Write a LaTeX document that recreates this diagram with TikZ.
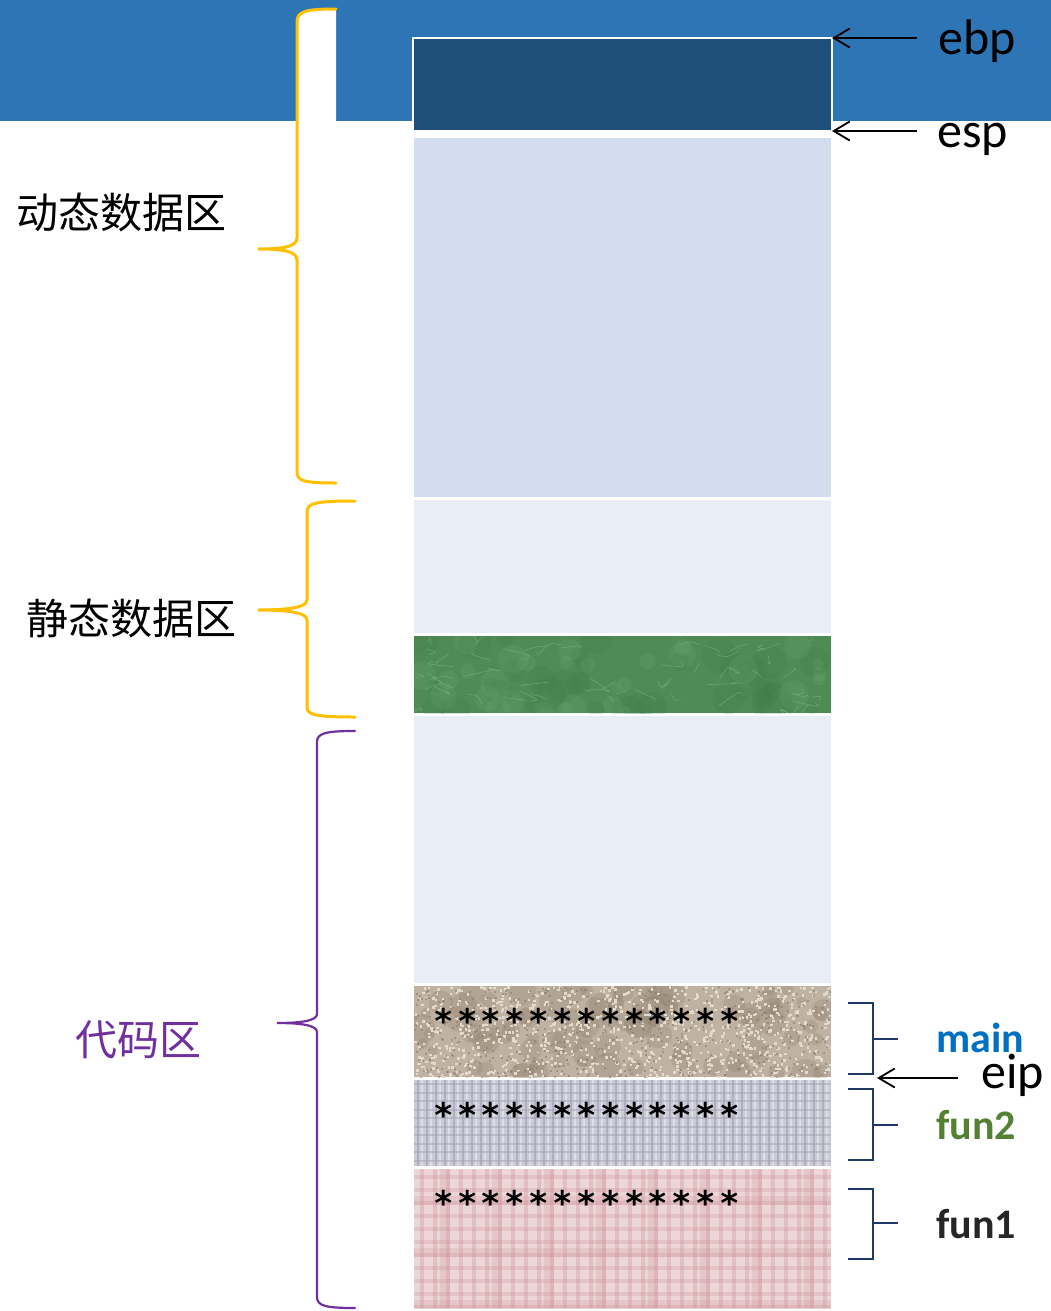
\documentclass[tikz,border=0pt]{standalone}
\usepackage{fontspec}
\setmainfont{Carlito}
\newfontfamily\cjk{Noto Sans CJK SC}
\newfontfamily\starfont{DejaVu Sans Mono}[LetterSpace=10]
\usetikzlibrary{arrows.meta,calc}
\definecolor{bannerBlue}{HTML}{2E75B6}
\definecolor{darkBox}{HTML}{1F4E79}
\definecolor{dynFill}{HTML}{D2DEEF}
\definecolor{statFill}{HTML}{E9EDF6}
\definecolor{braceYellow}{HTML}{FFC000}
\definecolor{codePurple}{HTML}{7030A0}
\definecolor{navy}{HTML}{203864}
\definecolor{mainBlue}{HTML}{0070C0}
\definecolor{funGreen}{HTML}{548235}
\definecolor{funDark}{HTML}{262626}
\definecolor{granA}{HTML}{BFB2A2}
\definecolor{granL}{HTML}{E2DACB}
\definecolor{granD}{HTML}{8C7C6B}
\definecolor{clothA}{HTML}{CBCBD7}
\definecolor{clothD}{HTML}{9E9EB2}
\definecolor{plaidA}{HTML}{EDD6D7}
\definecolor{plaidD}{HTML}{C98C92}
\definecolor{marA}{HTML}{4F8C55}
\definecolor{marL}{HTML}{8CC494}
\definecolor{marD}{HTML}{3E7A44}
\tikzset{
  memcell/.style={rectangle, inner sep=0pt, outer sep=0pt, minimum width=417pt},
  bracebig/.style={line width=3pt, line cap=round},
  bracket/.style={navy, line width=2.5pt},
  arr/.style={line width=1.8pt, -{Straight Barb[length=16pt,width=19pt]}},
  reglabel/.style={anchor=base west, inner sep=0pt, font=\fontsize{50}{60}\selectfont},
  funlabel/.style={anchor=base west, inner sep=0pt, font=\bfseries\fontsize{42}{50}\selectfont},
  zonelabel/.style={anchor=west, inner sep=0pt, font=\cjk\fontsize{42}{50}\selectfont},
  stars/.style={anchor=base west, inner sep=0pt, font=\starfont\bfseries\fontsize{34}{40}\selectfont},
}
\begin{document}
\begin{tikzpicture}[x=1pt,y=-1pt]
\useasboundingbox (0,0) rectangle (1051,1311);
\fill[white] (0,0) rectangle (1051,1311);
% banner
\fill[bannerBlue] (0,0) rectangle (1051,121);
\fill[white] (297,121) -- (297,22) .. controls (297,12) and (304,9) .. (336,9) -- (336,121) -- cycle;

% memory cells
\node[memcell, minimum width=419pt, minimum height=93pt, fill=darkBox, draw=white, line width=2pt] (frame) at (622.5,84.5) {};
\node[memcell, minimum height=359pt, fill=dynFill] (dyn) at (622.5,317.5) {};
\node[memcell, minimum height=133pt, fill=statFill] (stat) at (622.5,566.5) {};
\node[memcell, minimum height=77pt, fill=marA] (green) at (622.5,674.5) {};
\node[memcell, minimum height=267pt, fill=statFill] (code) at (622.5,849.5) {};
\node[memcell, minimum height=91pt, fill=granA] (mainbox) at (622.5,1031.5) {};
\node[memcell, minimum height=86pt, fill=clothA] (funtwo) at (622.5,1123) {};
\node[memcell, minimum height=139pt, fill=plaidA] (funone) at (622.5,1238.5) {};

\pgfmathsetseed{12}
% marble texture
\begin{scope}
\clip (green.south west) rectangle (green.north east);
\foreach \k in {1,...,40} \fill[marD, opacity=.2] ({414+417*rnd},{636+77*rnd}) circle ({6+12*rnd});
\foreach \k in {1,...,30} \fill[marL, opacity=.1] ({414+417*rnd},{636+77*rnd}) circle ({5+10*rnd});
\foreach \k in {1,...,60} \draw[marL, opacity=.45, line width=.6pt] ({414+417*rnd},{636+77*rnd}) .. controls ++({-12+24*rnd},{-6+12*rnd}) .. ++({-25+50*rnd},{-12+24*rnd});
\end{scope}
% granite texture
\begin{scope}
\clip (mainbox.south west) rectangle (mainbox.north east);
\foreach \k in {1,...,90} \fill[granD, opacity=.25] ({414+417*rnd},{986+91*rnd}) circle ({5+10*rnd});
\foreach \k in {1,...,900} \fill[granL] ({414+417*rnd},{986+91*rnd}) rectangle ++(2.5,2.5);
\foreach \k in {1,...,600} \fill[granD, opacity=.6] ({414+417*rnd},{986+91*rnd}) rectangle ++(2,2);
\end{scope}
% cloth texture
\begin{scope}
\clip (funtwo.south west) rectangle (funtwo.north east);
\foreach \xx in {418,427,...,831} \draw[clothD, opacity=.6, line width=2.2pt] (\xx,1080) -- (\xx,1166);
\foreach \xx in {422,431,...,831} \draw[white, opacity=.35, line width=1.5pt] (\xx,1080) -- (\xx,1166);
\foreach \yy in {1084,1092.5,...,1166} \draw[clothD, opacity=.45, line width=2pt] (414,\yy) -- (831,\yy);
\end{scope}
% plaid texture
\begin{scope}
\clip (funone.south west) rectangle (funone.north east);
\foreach \xx in {420,433,...,831} \fill[plaidD, opacity=.3] (\xx,1169) rectangle ++(4,139);
\foreach \yy in {1175,1188,...,1308} \fill[plaidD, opacity=.25] (414,\yy) rectangle ++(417,4);
\foreach \xx in {440,492,...,831} \fill[plaidD, opacity=.2] (\xx,1169) rectangle ++(10,139);
\foreach \yy in {1196,1248,...,1308} \fill[plaidD, opacity=.2] (414,\yy) rectangle ++(417,9);
\end{scope}

% asterisks
\node[stars] (starsmain) at (433,1033) {*************};
\node[stars] (starstwo) at (433,1127) {*************};
\node[stars] (starsone) at (433,1215) {*************};

% braces
\draw[bracebig, braceYellow] (336,9) .. controls (304,9) and (297,12) .. (297,22) -- (297,238)
  .. controls (297,247) and (282,249) .. (258,249) .. controls (282,249) and (297,251) .. (297,260)
  -- (297,472) .. controls (297,481) and (304,483) .. (336,483);
\draw[bracebig, braceYellow] (355,501) .. controls (316,501) and (307,503) .. (307,512) -- (307,600)
  .. controls (307,608) and (285,610) .. (258,610) .. controls (285,610) and (307,612) .. (307,620)
  -- (307,707) .. controls (307,715) and (316,717) .. (355,717);
\draw[line width=2.2pt, codePurple, line cap=round] (355,731) .. controls (326,731) and (317,733) .. (317,742) -- (317,1014)
  .. controls (317,1021) and (300,1023) .. (277,1023) .. controls (300,1023) and (317,1025) .. (317,1032)
  -- (317,1297) .. controls (317,1306) and (326,1308) .. (355,1308);

% small brackets
\draw[bracket] (848,1003) -- (873,1003) -- (873,1074) -- (848,1074) (873,1039) -- (898,1039);
\draw[bracket] (848,1089) -- (873,1089) -- (873,1160) -- (848,1160) (873,1125) -- (898,1125);
\draw[bracket] (848,1189) -- (873,1189) -- (873,1259) -- (848,1259) (873,1223) -- (898,1223);

% zone labels
\node[zonelabel] (dynlabel) at (16,213) {动态数据区};
\node[zonelabel] (statlabel) at (26,619) {静态数据区};
\node[zonelabel, text=codePurple] (codelabel) at (75,1040) {代码区};

% register labels and arrows
\node[reglabel] (ebp) at (938,55) {ebp};
\node[reglabel] (esp) at (937,147) {esp};
\node[reglabel] (eip) at (981,1088) {eip};
\coordinate (ebpfrom) at (917,38);
\coordinate (espfrom) at (917,131);
\coordinate (eipfrom) at (958,1078);
\coordinate (eiptip) at (877,1078);
\draw[arr] (ebpfrom) -- (frame.north east);
\draw[arr] (espfrom) -- (frame.south east);
\draw[arr] (eipfrom) -- (eiptip);

% function labels
\node[funlabel, text=mainBlue] (mainlabel) at (936,1052) {main};
\node[funlabel, text=funGreen] (funtwolabel) at (936,1139) {fun2};
\node[funlabel, text=funDark] (funonelabel) at (936,1238) {fun1};
\end{tikzpicture}
\end{document}
